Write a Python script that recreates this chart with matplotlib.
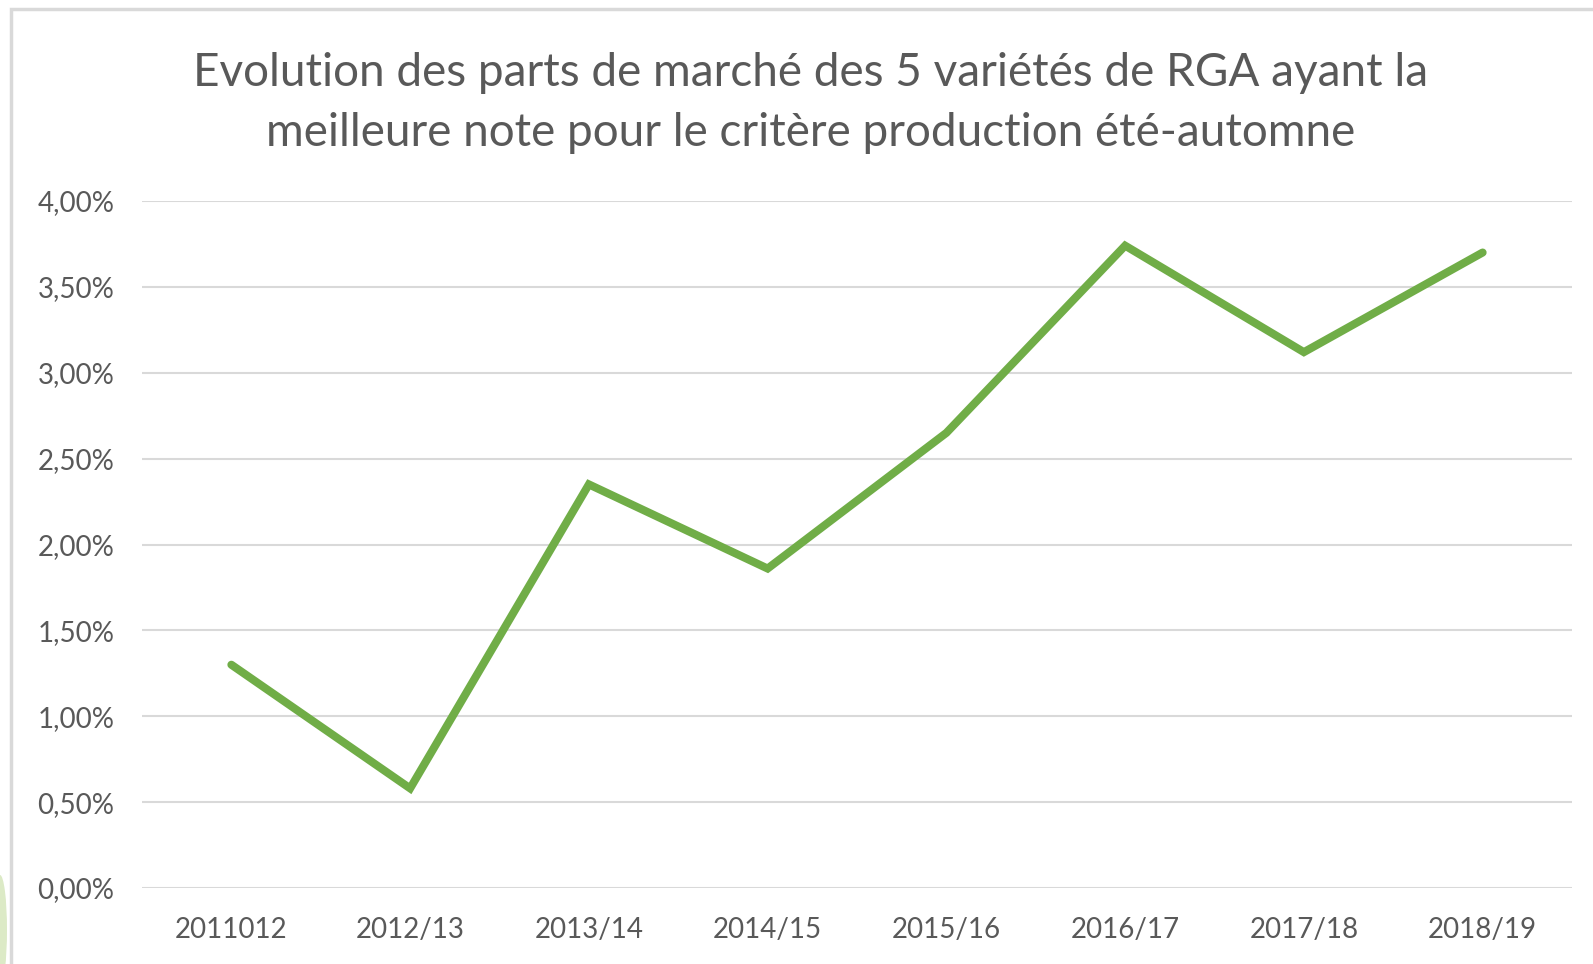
import matplotlib
matplotlib.use("Agg")
import matplotlib.pyplot as plt
from matplotlib.patches import Rectangle, Ellipse
from matplotlib.ticker import FuncFormatter, MultipleLocator

categories = ["2011012", "2012/13", "2013/14", "2014/15", "2015/16", "2016/17", "2017/18", "2018/19"]
values = [1.30, 0.58, 2.35, 1.86, 2.65, 3.74, 3.12, 3.70]  # percent
title = "Evolution des parts de marché des 5 variétés de RGA ayant la\nmeilleure note pour le critère production été-automne"

W, H = 1593, 964
fig = plt.figure(figsize=(W / 100, H / 100), dpi=100)
fig.patch.set_facecolor("white")

# chart area border (top and left visible)
fig.patches.append(Rectangle((11 / W, -0.1), 1.2, 1 - 9 / H + 0.1, transform=fig.transFigure,
                             fill=False, edgecolor="#d9d9d9", linewidth=2.5, zorder=0))
# faint green background hint at bottom-left
fig.patches.append(Ellipse((0 / W, 1 - 930 / H), 14 / W, 110 / H, transform=fig.transFigure,
                           facecolor="#c5dca0", edgecolor="none", alpha=0.6, zorder=0))

ax = fig.add_axes([142 / W, 1 - 888 / H, (1572 - 142) / W, (888 - 201) / H])
x = list(range(len(categories)))
ax.plot(x, values, color="#70AD47", linewidth=5.8, solid_capstyle="round",
        solid_joinstyle="miter", zorder=3)

ax.set_xlim(-0.5, len(categories) - 0.5)
ax.set_ylim(0, 4.0)
ax.yaxis.set_major_locator(MultipleLocator(0.5))
ax.yaxis.set_major_formatter(FuncFormatter(lambda v, p: f"{v:.2f}".replace(".", ",") + "%"))
ax.set_xticks(x)
ax.set_xticklabels(categories)
ax.grid(axis="y", color="#d9d9d9", linewidth=1.5, zorder=0)
ax.set_axisbelow(True)
for s in ax.spines.values():
    s.set_visible(False)
ax.tick_params(axis="both", length=0, colors="#595959", labelsize=20)
ax.tick_params(axis="y", pad=20)
ax.tick_params(axis="x", pad=21)
for lab in ax.get_xticklabels() + ax.get_yticklabels():
    lab.set_fontfamily("Lato")

fig.text(811 / W, 1 - 103 / H, title, ha="center", va="center", fontsize=33,
         color="#595959", fontfamily="Lato", linespacing=1.5)

fig.savefig("out.png", dpi=100)
